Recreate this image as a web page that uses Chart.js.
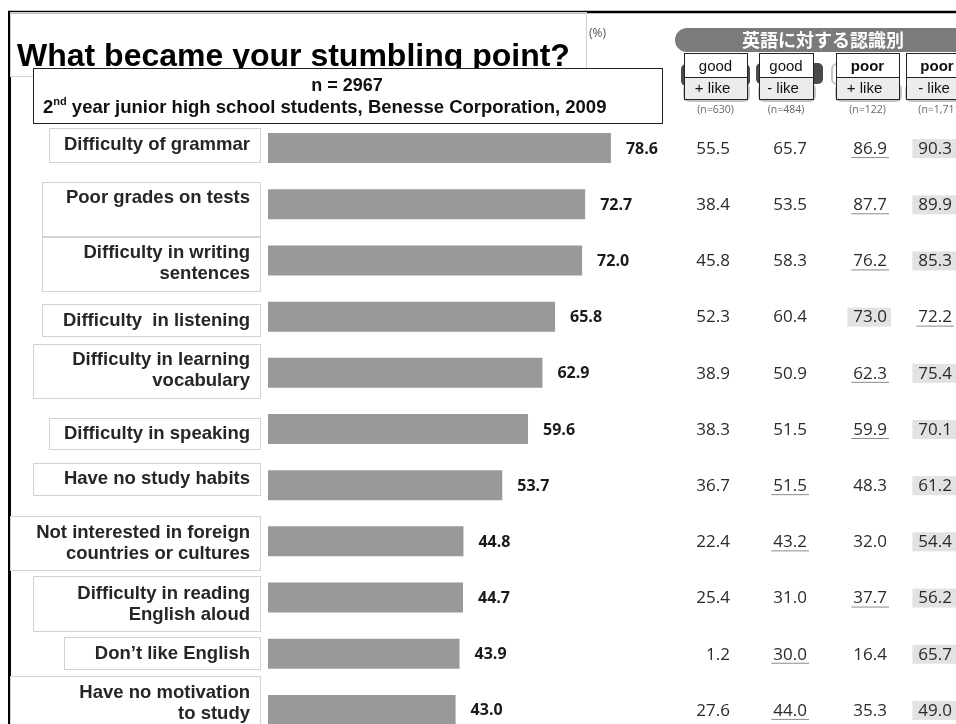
<!DOCTYPE html>
<html lang="en">
<head>
<meta charset="UTF-8">
<title>What became your stumbling point?</title>
<script src="https://cdn.jsdelivr.net/npm/chart.js"></script>
<style>
  html, body { margin: 0; padding: 0; background: #fff; }
  #wrap { width: 956px; height: 724px; overflow: hidden; }
</style>
</head>
<body>
<div id="wrap"><canvas id="chart" width="956" height="738"></canvas></div>
<script>
// survey items, top to bottom
const reasons = [
  'Difficulty of grammar',
  'Poor grades on tests',
  ['Difficulty in writing', 'sentences'],
  'Difficulty  in listening',
  ['Difficulty in learning', 'vocabulary'],
  'Difficulty in speaking',
  'Have no study habits',
  ['Not interested in foreign', 'countries or cultures'],
  ['Difficulty in reading', 'English aloud'],
  'Don\u2019t like English',
  ['Have no motivation', 'to study']
];
// all students (%)
const totals = [78.6, 72.7, 72.0, 65.8, 62.9, 59.6, 53.7, 44.8, 44.7, 43.9, 43.0];
// breakdown by attitude towards English (%)
const goodLike    = [55.5, 38.4, 45.8, 52.3, 38.9, 38.3, 36.7, 22.4, 25.4, 1.2, 27.6];
const goodDislike = [65.7, 53.5, 58.3, 60.4, 50.9, 51.5, 51.5, 43.2, 31.0, 30.0, 44.0];
const poorLike    = [86.9, 87.7, 76.2, 73.0, 62.3, 59.9, 48.3, 32.0, 37.7, 16.4, 35.3];
const poorDislike = [90.3, 89.9, 85.3, 72.2, 75.4, 70.1, 61.2, 54.4, 56.2, 65.7, 49.0];
const groupTop = ['good', 'good', 'poor', 'poor'];
const groupBottom = ['+ like', '- like', '+ like', '- like'];
const groupSizes = ['(n=630)', '(n=484)', '(n=122)', '(n=1,711)'];

const groups = [goodLike, goodDislike, poorLike, poorDislike];

// label frames: left edge, top / bottom offset from the bar centre, text shift
const labelBoxes = [
  [49, -20, 14, -3], [42, -22, 32, -6], [42, -23, 31, 3], [42, -13, 19, 4],
  [33, -29, 25, -2], [49, -11, 20, 5], [33, -22, 10, -6], [10, -25, 29, 2],
  [33, -22, 33, 7], [64, -17, 15, 0], [10, -34, 40, -7]
];
const colBoxes = [[684, 747], [759, 813], [836, 899], [906, 968]];
const colRight = [730, 807, 887, 952];

const SANS = '"Liberation Sans", Arial, sans-serif';
const NUM = '"Open Sans", sans-serif';

const decor = {
  id: 'decor',
  afterDatasetsDraw(chart) {
    const ctx = chart.ctx;
    const y = chart.scales.y;
    const meta = chart.getDatasetMeta(0);
    ctx.save();

    // outer frame
    ctx.strokeStyle = '#000';
    ctx.lineWidth = 2.5;
    ctx.beginPath();
    ctx.moveTo(8, 12); ctx.lineTo(956, 12);
    ctx.stroke();
    ctx.lineWidth = 3;
    ctx.beginPath();
    ctx.moveTo(9.5, 11); ctx.lineTo(9.5, 738);
    ctx.stroke();

    // title
    ctx.strokeStyle = '#cfcfcf';
    ctx.lineWidth = 1;
    ctx.strokeRect(10.5, 12.5, 576, 64);
    ctx.fillStyle = '#000';
    ctx.font = 'bold 32px ' + SANS;
    ctx.textAlign = 'left';
    ctx.textBaseline = 'alphabetic';
    ctx.fillText('What became your stumbling point?', 17, 66);

    // sample box
    ctx.fillStyle = '#fff';
    ctx.fillRect(33, 68, 629, 55);
    ctx.strokeStyle = '#222';
    ctx.strokeRect(33.5, 68.5, 629, 55);
    ctx.fillStyle = '#111';
    ctx.font = 'bold 18px ' + SANS;
    ctx.textAlign = 'center';
    ctx.textBaseline = 'middle';
    ctx.fillText('n = 2967', 347, 86);
    ctx.textAlign = 'left';
    ctx.font = 'bold 18.5px ' + SANS;
    ctx.fillText('2', 43, 108);
    let x = 43 + ctx.measureText('2').width;
    ctx.font = 'bold 11px ' + SANS;
    ctx.fillText('nd', x, 102);
    x += ctx.measureText('nd').width;
    ctx.font = 'bold 18.5px ' + SANS;
    ctx.fillText(' year junior high school students, Benesse Corporation, 2009', x, 108);

    ctx.fillStyle = '#555';
    ctx.font = '12px ' + NUM;
    ctx.fillText('(%)', 589, 34);

    // group header
    ctx.fillStyle = '#7b7b7b';
    ctx.beginPath();
    ctx.roundRect(675, 28, 320, 24, 12);
    ctx.fill();
    ctx.fillStyle = '#fff';
    ctx.textAlign = 'center';
    ctx.font = 'bold 18px "Noto Sans CJK JP", sans-serif';
    ctx.fillText('英語に対する認識別', 823, 40);

    // leftovers of the old header tabs behind the boxes
    ctx.fillStyle = '#4a4a4a';
    ctx.beginPath(); ctx.roundRect(681, 64, 69, 22, 5); ctx.fill();
    ctx.beginPath(); ctx.roundRect(756, 63, 67, 21, 5); ctx.fill();
    ctx.strokeStyle = '#c4c4c4';
    ctx.lineWidth = 2;
    ctx.beginPath(); ctx.roundRect(832, 64, 30, 20, 5); ctx.stroke();
    colBoxes.forEach(([l, r]) => {
      ctx.beginPath(); ctx.roundRect(l, 84, r - l + 2, 17, 5); ctx.stroke();
    });

    ctx.lineWidth = 1;
    colBoxes.forEach(([l, r], i) => {
      ctx.fillStyle = '#fff';
      ctx.fillRect(l, 53, r - l, 24);
      ctx.fillStyle = '#ececec';
      ctx.fillRect(l, 77, r - l, 22);
      ctx.strokeStyle = '#222';
      ctx.strokeRect(l + 0.5, 53.5, r - l, 24);
      ctx.strokeRect(l + 0.5, 77.5, r - l, 22);
      const cx = (l + r) / 2;
      ctx.fillStyle = '#111';
      ctx.font = (groupTop[i] === 'poor' ? 'bold ' : '') + '15px ' + SANS;
      ctx.fillText(groupTop[i], cx, 67);
      ctx.font = '15px ' + SANS;
      ctx.fillText(groupBottom[i], cx - 3, 89);
      ctx.fillStyle = '#666';
      ctx.font = '10.5px ' + NUM;
      ctx.fillText(groupSizes[i], cx + (i === 3 ? 4 : 0), 110);
    });

    // category labels with their frames
    reasons.forEach((label, i) => {
      const cy = y.getPixelForValue(i);
      const [left, top, bottom, dy] = labelBoxes[i];
      ctx.strokeStyle = '#d2d2d2';
      ctx.strokeRect(left + 0.5, Math.round(cy + top) + 0.5, 260 - left, bottom - top);
      const lines = Array.isArray(label) ? label : [label];
      ctx.fillStyle = '#262626';
      ctx.font = 'bold 18.5px ' + SANS;
      ctx.textAlign = 'right';
      lines.forEach((t, k) => {
        ctx.fillText(t, 250, cy + dy + (k - (lines.length - 1) / 2) * 21);
      });
    });

    // bar values
    ctx.fillStyle = '#1a1a1a';
    ctx.font = 'bold 16px ' + NUM;
    ctx.textAlign = 'left';
    meta.data.forEach((bar, i) => {
      ctx.fillText(totals[i].toFixed(1), bar.x + 15, bar.y + 1);
    });

    // breakdown table: highest of the four shaded, runner-up underlined
    ctx.font = '17px ' + NUM;
    ctx.textAlign = 'right';
    totals.forEach((_, i) => {
      const cy = y.getPixelForValue(i) + 1;
      const row = groups.map(g => g[i]);
      const sorted = [...row].sort((a, b) => b - a);
      row.forEach((v, c) => {
        const txt = v.toFixed(1);
        const w = ctx.measureText(txt).width;
        const r = colRight[c];
        if (v === sorted[0]) {
          ctx.fillStyle = '#e2e2e2';
          ctx.fillRect(r - w - 6, cy - 10, w + 10, 19);
        } else if (v === sorted[1]) {
          ctx.strokeStyle = '#8a8a8a';
          ctx.beginPath();
          ctx.moveTo(r - w - 2, cy + 8.5);
          ctx.lineTo(r + 2, cy + 8.5);
          ctx.stroke();
        }
        ctx.fillStyle = '#2a2a2a';
        ctx.fillText(txt, r, cy);
      });
    });

    ctx.restore();
  }
};

new Chart(document.getElementById('chart'), {
  type: 'bar',
  data: {
    labels: reasons,
    datasets: [{
      data: totals,
      backgroundColor: '#999999',
      borderWidth: 0,
      barPercentage: 0.534,
      categoryPercentage: 1
    }]
  },
  options: {
    indexAxis: 'y',
    responsive: false,
    animation: false,
    layout: { padding: { left: 268, top: 120, right: 0, bottom: 0 } },
    plugins: {
      legend: { display: false },
      tooltip: { enabled: false }
    },
    scales: {
      x: { display: false, min: 0, max: 157.7 },
      y: { display: false }
    }
  },
  plugins: [decor]
});
</script>
</body>
</html>
